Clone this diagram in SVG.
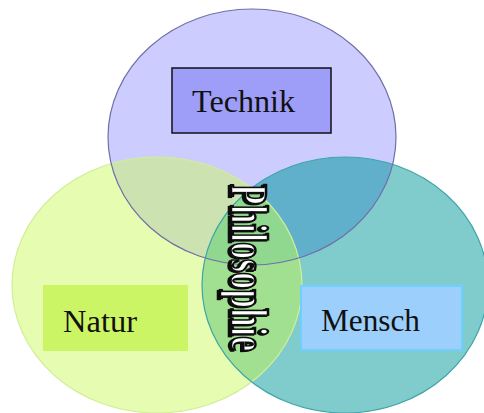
<svg xmlns="http://www.w3.org/2000/svg" xmlns:xlink="http://www.w3.org/1999/xlink" width="484" height="413" viewBox="0 0 484 413">
  <style>
    .label { font-family: "Liberation Serif", "Times New Roman", serif; fill: #111; }
    .outline { fill: none; }
    .core { font-family: "Liberation Serif", "Times New Roman", serif; font-weight: bold; }
  </style>
  <defs>
    <ellipse id="eT" cx="252" cy="137" rx="144" ry="128"/>
    <ellipse id="eL" cx="157" cy="285" rx="145" ry="128"/>
    <ellipse id="eR" cx="345" cy="285" rx="143" ry="128"/>
    <clipPath id="cT"><use xlink:href="#eT"/></clipPath>
    <clipPath id="cL"><use xlink:href="#eL"/></clipPath>
    <!-- hard offset shadow for the vertical word-art title -->
    <filter id="hardShadow" filterUnits="userSpaceOnUse" x="-20" y="-70" width="320" height="110">
      <feOffset in="SourceAlpha" dx="2.3" dy="2" result="off"/>
      <feFlood flood-color="#111"/>
      <feComposite operator="in" in2="off" result="shadow"/>
      <feMerge>
        <feMergeNode in="shadow"/>
        <feMergeNode in="SourceGraphic"/>
      </feMerge>
    </filter>
  </defs>

  <rect width="484" height="413" fill="#ffffff"/>

  <!-- set areas and their overlaps -->
  <g id="venn-fills">
    <use xlink:href="#eL" fill="#E6FCB0"/>
    <use xlink:href="#eR" fill="#80CCCC"/>
    <use xlink:href="#eT" fill="#CCCCFF"/>
    <use xlink:href="#eR" fill="#A0E090" clip-path="url(#cL)"/>
    <use xlink:href="#eL" fill="#CCE2B0" clip-path="url(#cT)"/>
    <use xlink:href="#eR" fill="#60B0CC" clip-path="url(#cT)"/>
    <g clip-path="url(#cT)">
      <use xlink:href="#eR" fill="#90D890" clip-path="url(#cL)"/>
    </g>
  </g>

  <g id="connectors"/>

  <g id="natur">
    <use xlink:href="#eL" class="outline" stroke="#D2EE98" stroke-width="1.2"/>
    <rect x="43" y="285" width="145" height="66" fill="#CCF566"/>
    <text class="label" x="63" y="332" font-size="32" textLength="74" lengthAdjust="spacingAndGlyphs">Natur</text>
  </g>

  <g id="mensch">
    <use xlink:href="#eR" class="outline" stroke="#3FA5A8" stroke-width="1.2"/>
    <rect x="301" y="286" width="161" height="64" fill="#9CCFFB" stroke="#6FD0FF" stroke-width="2"/>
    <text class="label" x="321" y="331" font-size="31" textLength="99" lengthAdjust="spacingAndGlyphs">Mensch</text>
  </g>

  <g id="technik">
    <use xlink:href="#eT" class="outline" stroke="#7070A8" stroke-width="1.2"/>
    <rect x="172" y="68" width="159" height="65" fill="#9E9EF8" stroke="#111" stroke-width="1.5"/>
    <text class="label" x="192" y="112" font-size="31" textLength="103" lengthAdjust="spacingAndGlyphs">Technik</text>
  </g>

  <!-- vertical title, condensed along its reading direction -->
  <g id="philosophie" transform="translate(231,184) rotate(90) scale(0.65,1)">
    <text class="core" x="0" y="0" font-size="52" fill="#ffffff" stroke="#111" stroke-width="2.4" filter="url(#hardShadow)">Philosophie</text>
  </g>
</svg>
